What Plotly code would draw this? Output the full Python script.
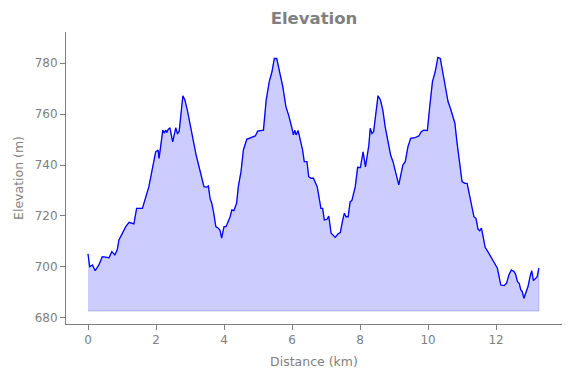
import plotly.graph_objects as go

distance_km = [0.00, 0.05, 0.13, 0.21, 0.32, 0.42, 0.62, 0.70, 0.79, 0.86, 0.91, 1.11, 1.21, 1.35, 1.43, 1.60,
               1.79, 1.99, 2.06, 2.09, 2.20, 2.24, 2.29, 2.31, 2.36, 2.41, 2.49, 2.58, 2.63, 2.68, 2.79, 2.85,
               2.92, 3.00, 3.10, 3.18, 3.24, 3.34, 3.41, 3.49, 3.54, 3.59, 3.64, 3.69, 3.76, 3.83, 3.88, 3.93,
               4.00, 4.06, 4.13, 4.18, 4.23, 4.29, 4.37, 4.42, 4.50, 4.57, 4.67, 4.79, 4.92, 4.99, 5.09, 5.16,
               5.24, 5.33, 5.41, 5.48, 5.55, 5.61, 5.73, 5.82, 5.90, 6.00, 6.04, 6.08, 6.12, 6.18, 6.24, 6.31,
               6.36, 6.44, 6.49, 6.56, 6.63, 6.71, 6.74, 6.80, 6.85, 6.90, 6.95, 7.03, 7.08, 7.15, 7.23, 7.27,
               7.35, 7.42, 7.49, 7.54, 7.59, 7.65, 7.71, 7.76, 7.86, 7.93, 8.01, 8.09, 8.16, 8.26, 8.30, 8.35,
               8.40, 8.47, 8.53, 8.60, 8.67, 8.74, 8.84, 8.90, 8.97, 9.04, 9.14, 9.20, 9.26, 9.33, 9.41, 9.49,
               9.61, 9.73, 9.80, 9.87, 9.98, 10.05, 10.13, 10.21, 10.29, 10.36, 10.42, 10.49, 10.59, 10.66,
               10.79, 10.85, 10.91, 11.00, 11.08, 11.15, 11.21, 11.27, 11.35, 11.41, 11.47, 11.52, 11.57,
               11.62, 11.68, 11.76, 11.84, 11.94, 12.04, 12.09, 12.14, 12.24, 12.31, 12.38, 12.45, 12.53,
               12.58, 12.63, 12.68, 12.73, 12.77, 12.82, 12.87, 12.94, 13.00, 13.05, 13.10, 13.17, 13.21, 13.26]

elevation_m = [705.1, 700.1, 700.8, 698.5, 700.8, 704.0, 703.6, 706.0, 704.7, 706.7, 710.6, 715.8, 717.5, 716.9, 723.0, 723.0,
               731.5, 745.2, 745.9, 742.6, 753.7, 752.7, 753.7, 752.7, 754.0, 754.6, 749.1, 754.6, 752.4, 753.1, 767.2, 765.5,
               761.6, 755.7, 748.5, 743.9, 740.7, 735.4, 731.5, 731.3, 731.8, 726.9, 725.0, 721.7, 715.8, 715.2, 714.5, 711.3,
               715.8, 715.8, 717.8, 719.7, 722.4, 722.1, 725.0, 731.5, 737.4, 745.9, 750.1, 750.7, 751.4, 753.3, 753.7, 753.7,
               765.5, 772.7, 776.6, 781.8, 781.8, 778.5, 770.7, 762.9, 759.6, 754.4, 751.8, 753.7, 751.8, 753.5, 749.8, 745.9,
               741.3, 741.3, 735.4, 734.8, 734.8, 732.2, 731.5, 726.9, 723.0, 723.0, 718.4, 718.7, 720.0, 713.2, 712.3, 711.6,
               712.9, 713.5, 718.4, 721.1, 719.7, 719.7, 725.6, 726.0, 731.5, 739.1, 739.0, 745.2, 739.3, 747.8, 754.4, 752.4,
               753.1, 761.6, 767.2, 765.5, 761.6, 755.0, 748.6, 743.9, 741.3, 737.4, 732.2, 736.1, 740.0, 741.3, 747.2, 750.5,
               750.7, 751.4, 753.1, 753.7, 753.5, 762.9, 772.7, 776.6, 782.2, 781.8, 777.3, 772.0, 764.8, 762.2,
               756.4, 749.1, 742.6, 733.5, 732.8, 732.8, 728.9, 725.0, 719.7, 719.1, 714.8, 714.2, 715.2,
               711.9, 707.7, 706.0, 704.0, 701.5, 699.5, 696.2, 692.9, 692.7, 693.6, 696.9, 698.8, 698.2,
               696.9, 694.2, 693.6, 691.0, 690.3, 687.7, 689.7, 692.3, 696.2, 698.5, 694.6, 695.6, 696.2, 699.5]

fill_base_m = 682.7
x_ticks = [0, 2, 4, 6, 8, 10, 12]
y_ticks = [680, 700, 720, 740, 760, 780]

gray = "#808080"
font_family = "DejaVu Sans"

poly_x = distance_km + [distance_km[-1], distance_km[0]]
poly_y = elevation_m + [fill_base_m, fill_base_m]

fig = go.Figure()
fig.add_trace(go.Scatter(
    x=poly_x, y=poly_y, mode="lines", fill="toself",
    fillcolor="rgba(0,0,255,0.2)", line=dict(color="rgba(0,0,255,0.2)", width=1),
    hoverinfo="skip", showlegend=False))
fig.add_trace(go.Scatter(
    x=distance_km, y=elevation_m, mode="lines",
    line=dict(color="#0000ff", width=1.3), showlegend=False))

axis_common = dict(
    showgrid=False, zeroline=False, showline=True, linecolor=gray, linewidth=1,
    ticks="outside", ticklen=5, tickwidth=1, tickcolor=gray,
    tickfont=dict(family=font_family, size=12, color=gray),
    mirror=False, automargin=False)

fig.update_layout(
    width=571, height=378,
    margin=dict(l=66, r=9, t=32, b=54),
    paper_bgcolor="white", plot_bgcolor="white",
    title=dict(text="<b>Elevation</b>", x=0.5, xref="paper", y=0.952, yref="container",
               xanchor="center", yanchor="middle",
               font=dict(family=font_family, size=16.5, color=gray)),
    xaxis=dict(range=[-0.647, 13.94], tickvals=x_ticks,
               title=dict(text="Distance (km)", standoff=10,
                          font=dict(family=font_family, size=12.5, color=gray)),
               **axis_common),
    yaxis=dict(range=[677.6, 792.2], tickvals=y_ticks,
               title=dict(text="Elevation (m)", standoff=8,
                          font=dict(family=font_family, size=12.5, color=gray)),
               **axis_common),
)

fig.write_html("out.html", config={"displayModeBar": False},
               post_script="document.body.style.margin='0';")
